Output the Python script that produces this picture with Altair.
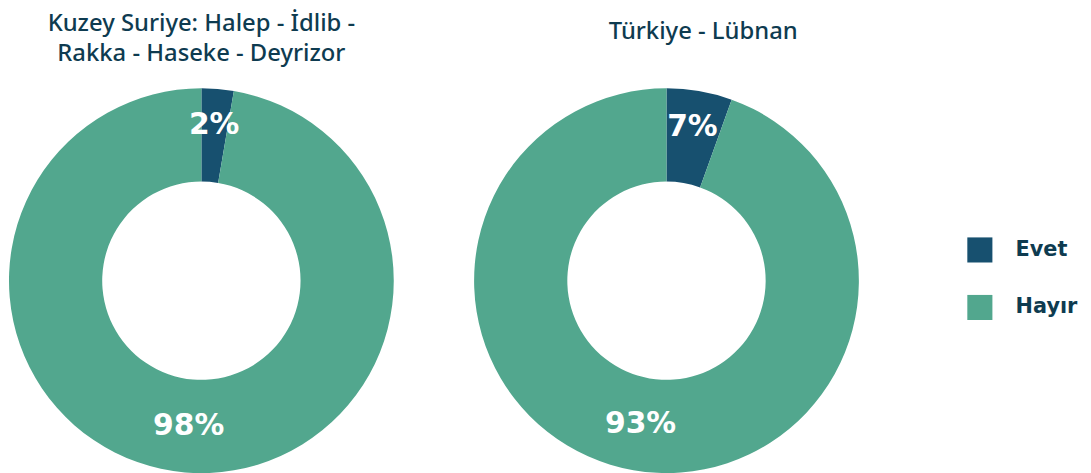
import altair as alt
import pandas as pd

categories = ["Evet", "Hayır"]
regions = ["Kuzey Suriye", "Türkiye - Lübnan"]
# slice shares as estimated from the drawn arcs, and printed labels
shares_syria = [2.7, 97.3]
shares_turkey = [5.5, 94.5]
labels_syria = ["2%", "98%"]
labels_turkey = ["7%", "93%"]

colors = ["#17506f", "#52a78e"]
text_color = "#0e3b50"
font = "DejaVu Sans"
title_font = "Noto Sans"

def make_df(shares, labels):
    return pd.DataFrame({
        "category": categories,
        "value": shares,
        "label": labels,
        "order": [0, 1],
    })

color = alt.Color("category:N",
                  scale=alt.Scale(domain=categories, range=colors),
                  legend=alt.Legend(title=None, orient="none", legendX=967, legendY=151,
                                    symbolType="square", symbolSize=640,
                                    symbolStrokeWidth=0, rowPadding=32,
                                    labelFontSize=21, labelFont=font,
                                    labelFontWeight="bold", labelColor=text_color,
                                    labelOffset=23))

def donut(df, title):
    base = alt.Chart(df).encode(
        theta=alt.Theta("value:Q", stack=True),
        order=alt.Order("order:O"),
    )
    arcs = base.mark_arc(innerRadius=100, outerRadius=194).encode(color=color)
    texts = base.mark_text(radius=152, dy=-5, fontSize=30, fontWeight="bold",
                           font=font, color="white").encode(text="label:N")
    return (arcs + texts).properties(width=390, height=390, title=title)

left = donut(make_df(shares_syria, labels_syria),
             alt.TitleParams(["Kuzey Suriye: Halep - İdlib -", "Rakka - Haseke - Deyrizor"],
                             fontSize=24, font=title_font, fontWeight=500,
                             color=text_color, anchor="middle", lineHeight=30, offset=22))
right = donut(make_df(shares_turkey, labels_turkey),
              alt.TitleParams("Türkiye - Lübnan",
                              fontSize=24, font=title_font, fontWeight=500,
                              color=text_color, anchor="middle", offset=22, dx=37, dy=-22))

chart = alt.hconcat(left, right, spacing=79).properties(
    padding={"left": 0, "top": 2, "right": 5, "bottom": 5}
).configure_view(stroke=None)

chart.save("out.html", embed_options={"renderer": "svg", "actions": False})
